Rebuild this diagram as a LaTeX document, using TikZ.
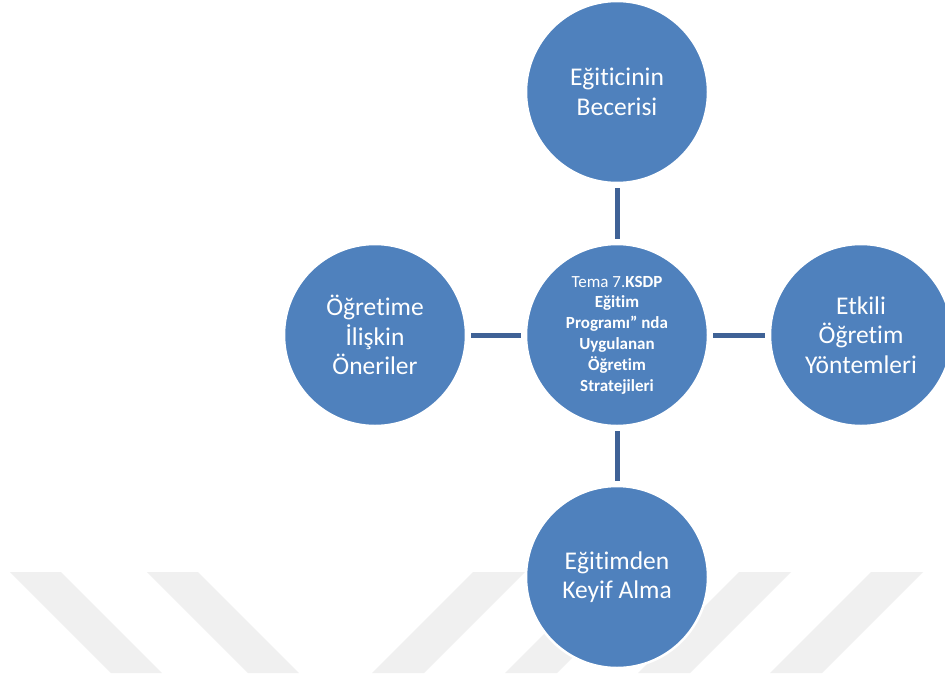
\documentclass[tikz,border=0pt]{standalone}
\usepackage{fontspec}
\setmainfont[RawFeature=-liga]{Carlito}
\definecolor{circblue}{RGB}{79,129,189}
\definecolor{linkblue}{RGB}{63,98,150}
\definecolor{wmgray}{RGB}{240,240,240}
\tikzset{
  bubble/.style={circle, fill=circblue, draw=white, line width=2.5pt, minimum size=182pt, inner sep=0pt, align=center, text=white, font=\fontsize{25.5}{29.5}\selectfont},
  hubtext/.style={font=\fontsize{17}{20.8}\selectfont},
  link/.style={draw=linkblue, line width=5pt, shorten >=4pt, shorten <=4pt},
  stripe/.style={fill=wmgray, draw=none}
}
\begin{document}
\begin{tikzpicture}[x=1pt,y=-1pt]
\useasboundingbox (0,0) rectangle (945,673);
\fill[white] (0,0) rectangle (945,673);
% watermark stripes
\foreach \a in {10,147}{
  \fill[stripe] (\a,572) -- (\a+51,572) -- (\a+152,673) -- (\a+101,673) -- cycle;
}
\foreach \b in {473,606,739,871}{
  \fill[stripe] (\b,572) -- (\b+52,572) -- (\b-49,673) -- (\b-101,673) -- cycle;
}
% nodes
\node[bubble] (top) at (617,92) {Eğiticinin\\Becerisi};
\node[bubble, hubtext] (hub) at (617,335) {Tema 7.\textbf{KSDP}\\\textbf{Eğitim}\\\textbf{Programı” nda}\\\textbf{Uygulanan}\\\textbf{Öğretim}\\\textbf{Stratejileri}};
\node[bubble] (left) at (375,335) {Öğretime\\İlişkin\\Öneriler};
\node[bubble] (right) at (861,335) {Etkili\\Öğretim\\Yöntemleri};
\node[bubble] (bottom) at (617,577) {Eğitimden\\Keyif Alma};
% connectors
\draw[link] (top) -- (hub);
\draw[link] (left) -- (hub);
\draw[link] (hub) -- (right);
\draw[link] (hub) -- (bottom);
\end{tikzpicture}
\end{document}
